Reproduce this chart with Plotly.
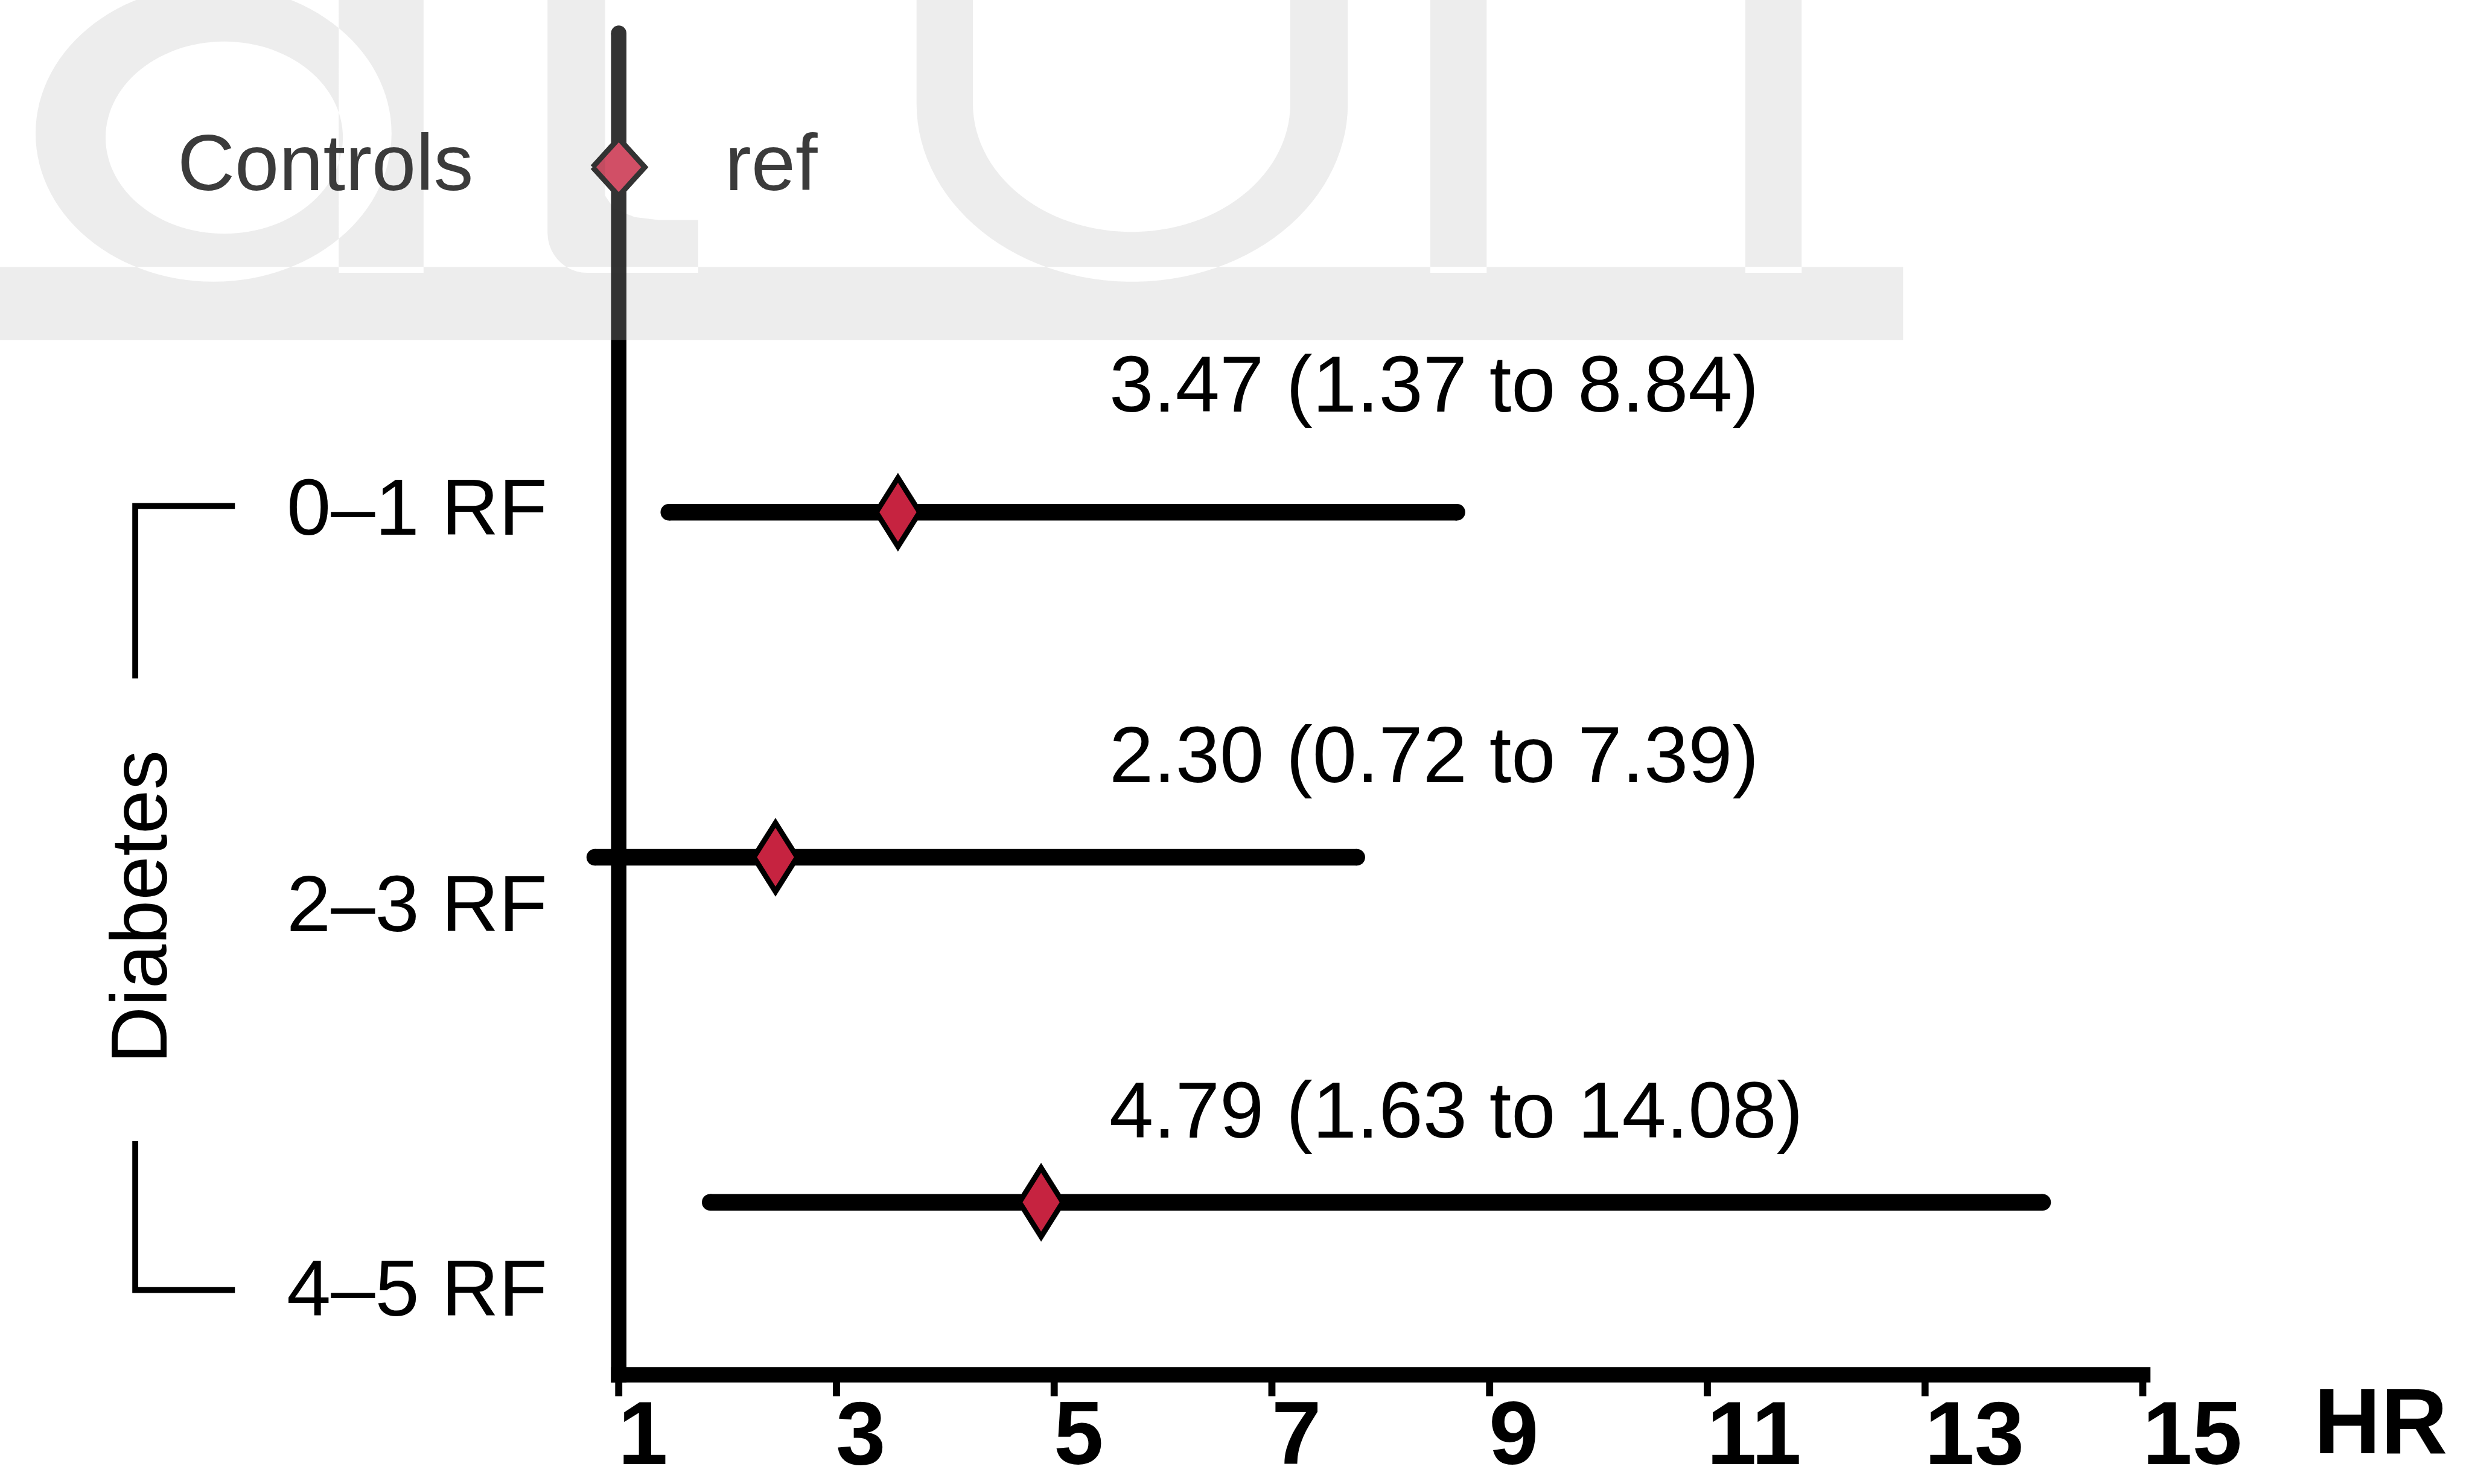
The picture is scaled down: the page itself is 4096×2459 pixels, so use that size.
import numpy as np
import plotly.graph_objects as go

# ---------------- data ----------------
row_names = ["Controls", "0–1 RF", "2–3 RF", "4–5 RF"]
row_pos = [3, 2, 1, 0]
hr_est = [1.00, 3.565, 2.44, 4.88]
ci_low = [None, 1.46, 0.78, 1.84]
ci_high = [None, 8.70, 7.78, 14.08]
hr_text = ["ref", "3.47 (1.37 to 8.84)", "2.30 (0.72 to 7.39)", "4.79 (1.63 to 14.08)"]
x_ticks = [1, 3, 5, 7, 9, 11, 13, 15]
x_tick_labels = ["1", "3", "5", "7", "9", "11", "13", "15"]
group_label = "Diabetes"
axis_title = "HR"

# ---------------- geometry (reference pixels) ----------------
W_REF, H_REF = 4167, 2502
W, H = 4096, 2459
S = W / W_REF

X1_PX, PX_PER_X = 1043.0, 183.5      # x = 1 position, px per HR unit
Y0_PX, PX_PER_Y = 2027.0, 581.7      # row 0 position, px per row
PLOT_L, PLOT_R, PLOT_T, PLOT_B = 900, 3700, 30, 2362

def xdata(px):
    return 1 + (px - X1_PX) / PX_PER_X

def ydata(py):
    return (Y0_PX - py) / PX_PER_Y

def px_x(px):
    return px / W_REF

def px_y(py):
    return 1 - py / H_REF

FONT = "Liberation Sans, Arial, Helvetica, sans-serif"
F_TXT = 134 * S
F_TICK = 151 * S
RED = "#C62340"
BAR_W = 28 * S

fig = go.Figure()

# CI bars (round ends via end markers)
for lo, hi, yv in zip(ci_low, ci_high, row_pos):
    if lo is None:
        continue
    fig.add_trace(go.Scatter(x=[lo, hi], y=[yv, yv], mode="lines+markers",
                             line=dict(color="black", width=BAR_W),
                             marker=dict(symbol="circle", size=BAR_W, color="black",
                                         line=dict(width=0)),
                             hoverinfo="skip", showlegend=False))

# diamonds (sizes in px converted to data units)
for i, (est, yv) in enumerate(zip(hr_est, row_pos)):
    hw, hh = (44.0, 48.5) if i == 0 else (36.5, 58.0)
    dx, dy = hw / PX_PER_X, hh / PX_PER_Y
    fig.add_trace(go.Scatter(
        x=[est - dx, est, est + dx, est, est - dx],
        y=[yv, yv + dy, yv, yv - dy, yv],
        mode="lines", fill="toself", fillcolor=RED,
        line=dict(color="black", width=9 * S),
        hoverinfo="skip", showlegend=False))

shapes = []
# axis lines (data coords)
axis_y = -0.5
lw_axis = 26
half_x = (lw_axis / 2) / PX_PER_X
half_y = (lw_axis / 2) / PX_PER_Y
shapes.append(dict(type="line", xref="x", yref="y", layer="below",
                   x0=1, x1=1, y0=axis_y - half_y, y1=ydata(56),
                   line=dict(color="black", width=lw_axis * S)))
shapes.append(dict(type="circle", xref="x", yref="y", layer="below",
                   x0=1 - half_x, x1=1 + half_x, y0=ydata(56) - half_y, y1=ydata(56) + half_y,
                   fillcolor="black", line=dict(width=0)))
shapes.append(dict(type="line", xref="x", yref="y", layer="below",
                   x0=x_ticks[0] - half_x, x1=x_ticks[-1] + half_x, y0=axis_y, y1=axis_y,
                   line=dict(color="black", width=lw_axis * S)))
for t in x_ticks:
    shapes.append(dict(type="line", xref="x", yref="y", layer="below",
                       x0=t, x1=t, y0=axis_y, y1=ydata(2354),
                       line=dict(color="black", width=12 * S)))

# bracket for group label
def path_str(pts, close=False):
    s = "M" + "L".join(f"{px_x(x):.6f},{px_y(y):.6f}" for x, y in pts)
    return s + ("Z" if close else "")

shapes.append(dict(type="path", xref="paper", yref="paper",
                   path=path_str([(396, 853), (228, 853), (228, 1144)]),
                   line=dict(color="black", width=10 * S)))
shapes.append(dict(type="path", xref="paper", yref="paper",
                   path=path_str([(228, 1924), (228, 2175), (396, 2175)]),
                   line=dict(color="black", width=10 * S)))

# ---------------- watermark overlay ----------------
def area(pts):
    a = 0.0
    for (x1, y1), (x2, y2) in zip(pts, pts[1:] + pts[:1]):
        a += x1 * y2 - x2 * y1
    return a / 2

def orient(pts, positive=True):
    a = area(pts)
    if (a > 0) != positive:
        pts = pts[::-1]
    return pts

def rect(x0, y0, x1, y1):
    return [(x0, y0), (x1, y0), (x1, y1), (x0, y1)]

def ellipse(cx, cy, rx, ry, n=120):
    t = np.linspace(0, 2 * np.pi, n, endpoint=False)
    return [(cx + rx * np.cos(a), cy + ry * np.sin(a)) for a in t]

pieces = []
pieces.append(orient(rect(0, 450, 3208, 573)))                 # base band
pieces.append(orient(ellipse(360, 225, 300, 250)))             # "a" bowl
pieces.append(orient(ellipse(378, 232, 200, 162), False))      # "a" counter
pieces.append(orient(rect(571, -20, 714, 460)))                # "a" stem
# "t"
tp = [(923, -20), (1020, -20), (1020, 330), (1035, 352), (1070, 366), (1110, 371),
      (1177, 371), (1177, 460)]
for a in np.linspace(np.pi / 2, np.pi, 12):
    tp.append((990 + 67 * np.cos(a), 393 + 67 * np.sin(a)))
pieces.append(orient(tp))
# "o"/"u" bottom
up = [(1545, -20), (1545, 175)]
for a in np.linspace(np.pi, 0, 60):
    up.append((1908.5 + 363.5 * np.cos(a), 175 + 300 * np.sin(a)))
up += [(2272, -20), (2175, -20), (2175, 175)]
for a in np.linspace(0, np.pi, 60):
    up.append((1907.5 + 267.5 * np.cos(a), 175 + 216 * np.sin(a)))
up += [(1640, -20)]
pieces.append(orient(up))
# "n" stems
pieces.append(orient(rect(2411, -20, 2506, 460)))
pieces.append(orient(rect(2942, -20, 3037, 460)))

wm_path = "".join(path_str(p, close=True) for p in pieces)

shapes.append(dict(type="rect", xref="paper", yref="paper", layer="above",
                   x0=px_x(0), x1=px_x(3208), y0=px_y(573), y1=px_y(-5),
                   fillcolor="rgba(255,255,255,0.2)", line=dict(width=0)))
shapes.append(dict(type="path", xref="paper", yref="paper", layer="above",
                   path=wm_path, fillcolor="rgba(51,51,51,0.088)", line=dict(width=0)))

# ---------------- annotations ----------------
ann = []
label_y_px = [274, 855, 1524, 2172]
label_right_px = [800, 925, 925, 925]
for name, ly, lx, i in zip(row_names, label_y_px, label_right_px, range(4)):
    ann.append(dict(text=name, xref="paper", yref="y", x=px_x(lx), y=ydata(ly),
                    xanchor="right", yanchor="middle", showarrow=False,
                    font=dict(family=FONT, size=F_TXT,
                              color="#3b3b3b" if i == 0 else "black")))

text_y_px = [274, 648, 1272, 1872]
text_x_px = [1220, 1868, 1868, 1868]
for txt, ty, tx, i in zip(hr_text, text_y_px, text_x_px, range(4)):
    ann.append(dict(text=txt, xref="paper", yref="y", x=px_x(tx), y=ydata(ty),
                    xanchor="left", yanchor="middle", showarrow=False,
                    font=dict(family=FONT, size=F_TXT,
                              color="#3b3b3b" if i == 0 else "black")))

ann.append(dict(text=group_label, xref="paper", yref="paper", x=px_x(235), y=px_y(1529),
                xanchor="center", yanchor="middle", textangle=-90, showarrow=False,
                font=dict(family=FONT, size=F_TXT, color="black")))

for t, lab in zip(x_ticks, x_tick_labels):
    ann.append(dict(text=f"<b>{lab}</b>", xref="x", yref="paper", x=t, y=px_y(2416),
                    xanchor="left", yanchor="middle", xshift=-3 * S, showarrow=False,
                    font=dict(family=FONT, size=F_TICK, color="black")))

ann.append(dict(text=f"<b>{axis_title}</b>", xref="paper", yref="paper",
                x=px_x(4013), y=px_y(2396), xanchor="center", yanchor="middle",
                showarrow=False, font=dict(family=FONT, size=156 * S, color="black")))

fig.update_layout(
    width=W, height=H, autosize=False,
    margin=dict(l=0, r=0, t=0, b=0, pad=0),
    paper_bgcolor="white", plot_bgcolor="rgba(0,0,0,0)",
    showlegend=False,
    xaxis=dict(range=[xdata(PLOT_L), xdata(PLOT_R)], domain=[px_x(PLOT_L), px_x(PLOT_R)],
               visible=False, fixedrange=True),
    yaxis=dict(range=[ydata(PLOT_B), ydata(PLOT_T)], domain=[px_y(PLOT_B), px_y(PLOT_T)],
               visible=False, fixedrange=True),
    shapes=shapes, annotations=ann,
)

fig.write_html("out.html")
